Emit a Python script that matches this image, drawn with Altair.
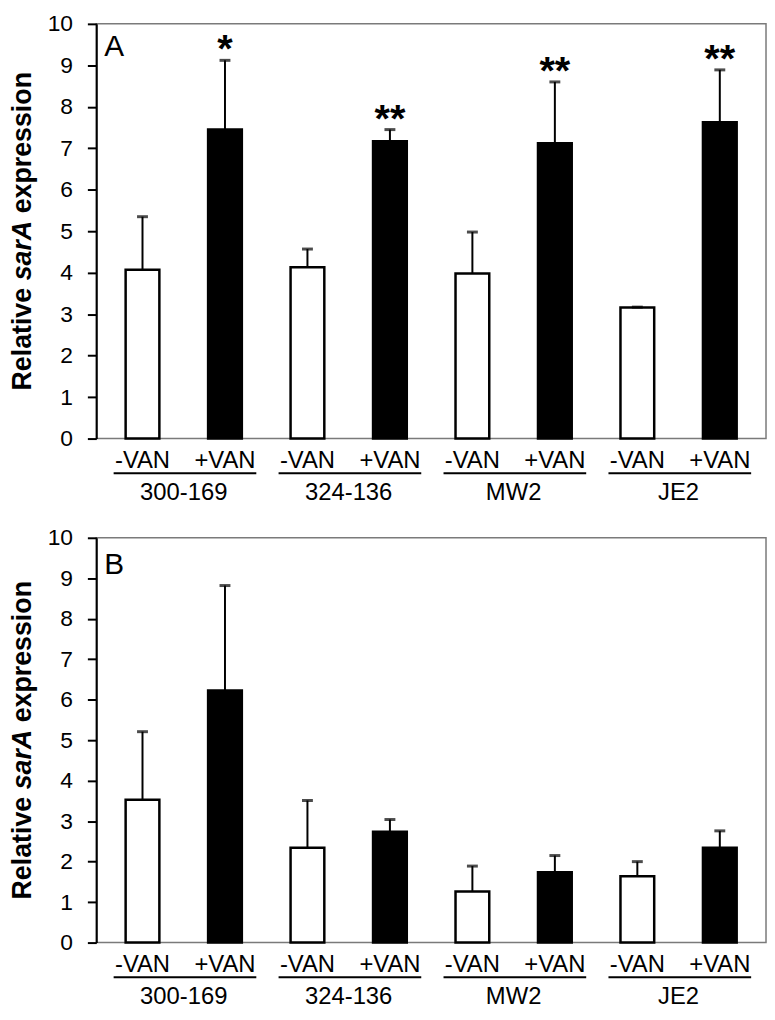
import altair as alt
import pandas as pd

# ---------------- data ----------------
strains = ["300-169", "324-136", "MW2", "JE2"]
treatments = ["-VAN", "+VAN"]

# Panel A
a_mean_minus = [4.07, 4.13, 3.98, 3.16]
a_upper_minus = [5.35, 4.57, 4.98, 3.17]
a_mean_plus = [7.45, 7.17, 7.12, 7.63]
a_upper_plus = [9.12, 7.45, 8.60, 8.89]
a_sig_plus = ["*", "**", "**", "**"]

# Panel B
b_mean_minus = [3.53, 2.34, 1.26, 1.64]
b_upper_minus = [5.21, 3.51, 1.89, 2.00]
b_mean_plus = [6.23, 2.74, 1.74, 2.34]
b_upper_plus = [8.82, 3.04, 2.15, 2.76]
b_sig_plus = ["", "", "", ""]

y_ticks = list(range(0, 11))

FONT = "Liberation Sans"
W = 675
TS = 27  # y-title font size
LS = 24  # x label font size


def panel(letter, mm, um, mp, up, sig, H, letter_y):
    rows = []
    for g, s in enumerate(strains):
        vals = [(treatments[0], mm[g], um[g], ""), (treatments[1], mp[g], up[g], sig[g])]
        for k, (t, m, u, sg) in enumerate(vals):
            rows.append(dict(strain=s, treatment=t, pos=2 * g + k + 0.5,
                             mean=m, upper=u, sig=sg))
    df = pd.DataFrame(rows)
    grp = pd.DataFrame(dict(
        strain=strains,
        center=[2 * g + 1.0 for g in range(len(strains))],
        left=[2 * g + 0.5 - 0.35 for g in range(len(strains))],
        right=[2 * g + 1.5 + 0.38 for g in range(len(strains))],
    ))

    xs = alt.Scale(domain=[0, 8], nice=False, zero=False)
    ys = alt.Scale(domain=[0, 10], nice=False)
    yaxis = alt.Axis(values=y_ticks, grid=False, title=None, labelFont=FONT,
                     labelFontSize=23, labelColor="black", tickColor="black",
                     tickWidth=2, tickSize=9, domainColor="black", domainWidth=2,
                     labelPadding=15)

    base = alt.Chart(df)
    bars = base.mark_bar(size=34, stroke="black", strokeWidth=2.5, orient="vertical").encode(
        x=alt.X("pos:Q", scale=xs, axis=None),
        y=alt.Y("mean:Q", scale=ys, axis=yaxis),
        fill=alt.Fill("treatment:N", scale=alt.Scale(domain=treatments, range=["white", "black"]),
                      legend=None),
    )
    stems = base.mark_rule(color="black", strokeWidth=2).encode(
        x=alt.X("pos:Q", scale=xs, axis=None),
        y=alt.Y("mean:Q", scale=ys, axis=yaxis),
        y2="upper:Q",
    )
    caps = base.mark_tick(orient="horizontal", size=11, thickness=3, color="black").encode(
        x=alt.X("pos:Q", scale=xs, axis=None),
        y=alt.Y("upper:Q", scale=ys, axis=yaxis),
    )
    stars = base.mark_text(font=FONT, fontSize=40, fontWeight="bold", baseline="alphabetic",
                           dy=2, color="black").encode(
        x=alt.X("pos:Q", scale=xs, axis=None),
        y=alt.Y("upper:Q", scale=ys, axis=yaxis),
        text="sig:N",
    )
    tlabels = base.mark_text(font=FONT, fontSize=LS, baseline="middle", color="black").encode(
        x=alt.X("pos:Q", scale=xs, axis=None),
        y=alt.value(H + 23),
        text="treatment:N",
    )
    gb = alt.Chart(grp)
    underline = gb.mark_rule(color="black", strokeWidth=2).encode(
        x=alt.X("left:Q", scale=xs, axis=None),
        x2="right:Q",
        y=alt.value(H + 35),
    )
    slabels = gb.mark_text(font=FONT, fontSize=LS, baseline="middle", color="black").encode(
        x=alt.X("center:Q", scale=xs, axis=None),
        y=alt.value(H + 55),
        text="strain:N",
    )
    let = alt.Chart(pd.DataFrame({"t": [letter]})).mark_text(
        font=FONT, fontSize=30, align="left", baseline="alphabetic", color="black").encode(
        x=alt.value(8), y=alt.value(letter_y), text="t:N")

    # y title with italic gene name
    y0 = H / 2 + 11.894 * TS / 2
    parts = [("Relative ", "normal", y0),
             ("sarA", "italic", y0 - 4.113 * TS),
             ("expression", "normal", y0 - 6.614 * TS)]
    tparts = []
    for txt, style, yy in parts:
        tparts.append(alt.Chart(pd.DataFrame({"t": [txt]})).mark_text(
            font=FONT, fontSize=TS, fontWeight="bold", fontStyle=style, angle=270,
            align="left", baseline="alphabetic", color="black").encode(
            x=alt.value(-66), y=alt.value(yy), text="t:N"))

    return alt.layer(bars, stems, caps, stars, tlabels, underline, slabels, let, *tparts).properties(
        width=W, height=H)


pa = panel("A", a_mean_minus, a_upper_minus, a_mean_plus, a_upper_plus, a_sig_plus, 418, 32)
pb = panel("B", b_mean_minus, b_upper_minus, b_mean_plus, b_upper_plus, b_sig_plus, 408, 36)

chart = alt.vconcat(pa, pb, spacing=100, bounds="flush").properties(padding=0).configure(
    font=FONT).configure_view(stroke="#7a7a7a", strokeWidth=1.5)

chart.save("out.html", embed_options={"renderer": "svg", "actions": False})
